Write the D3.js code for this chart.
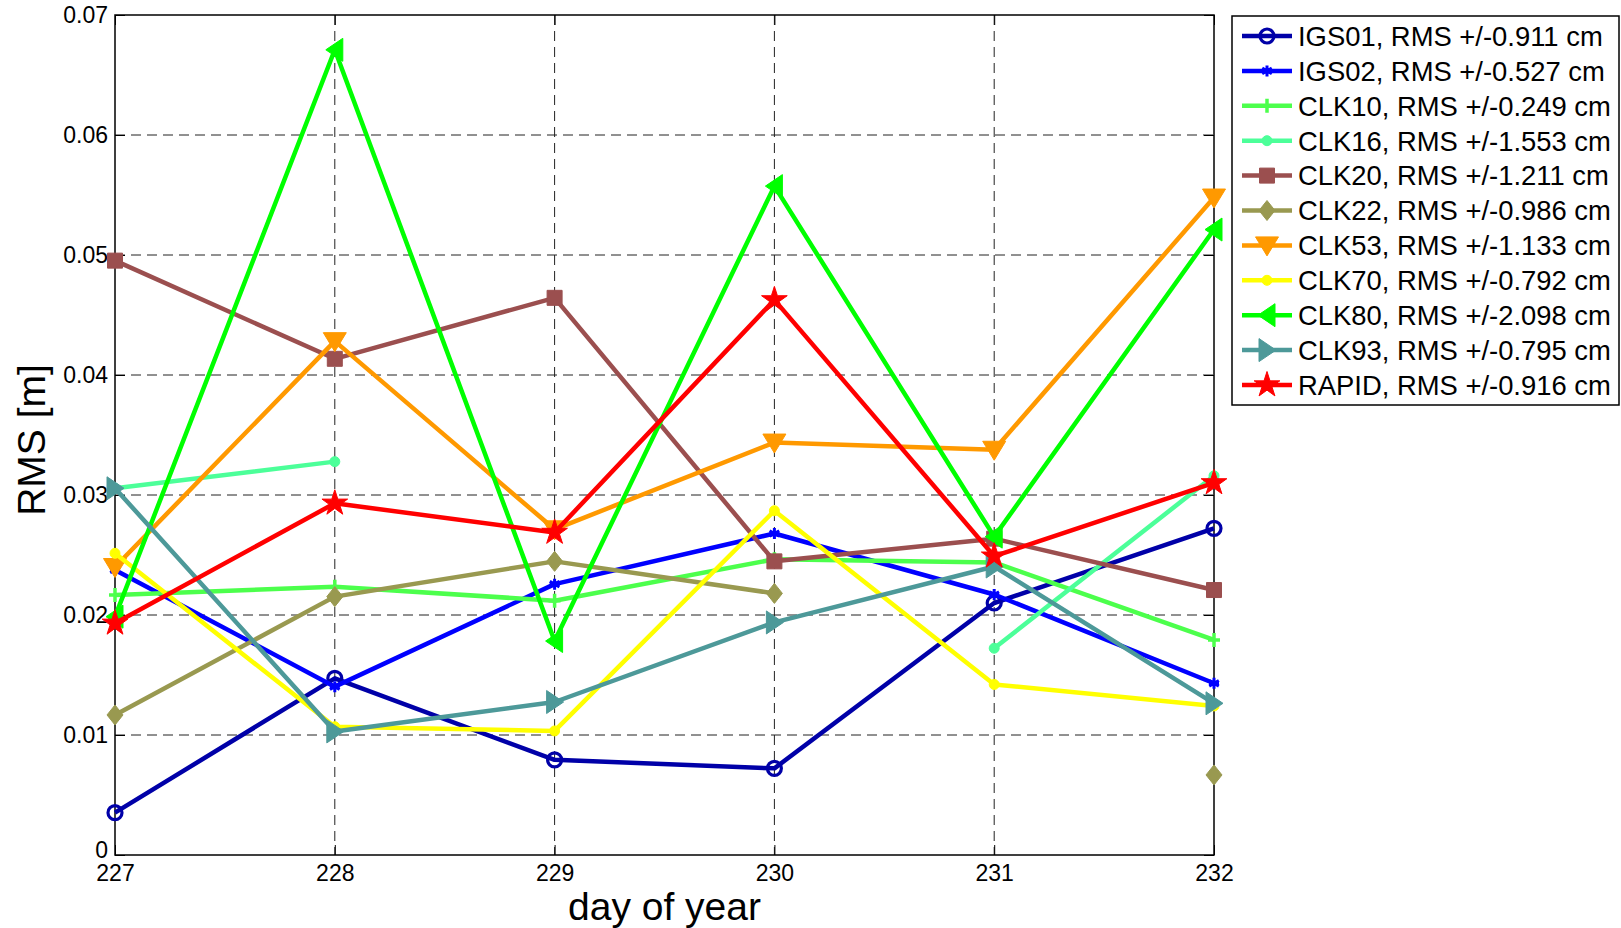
<!DOCTYPE html>
<html>
<head>
<meta charset="utf-8">
<script src="https://cdn.jsdelivr.net/npm/d3@7"></script>
<style>
    body { margin: 0; background: #fff; }
    svg { display: block; font-family: "Liberation Sans", Arial, sans-serif; }
</style>
</head>
<body>
<svg id="chart"></svg>
<script>
// days on the x axis and y tick values
const days = [227, 228, 229, 230, 231, 232];
const yTicks = [0, 0.01, 0.02, 0.03, 0.04, 0.05, 0.06, 0.07];

// legend names and the RMS text shown beside them
const names = ["IGS01", "IGS02", "CLK10", "CLK16", "CLK20", "CLK22", "CLK53", "CLK70", "CLK80", "CLK93", "RAPID"];
const rmsText = ["0.911", "0.527", "0.249", "1.553", "1.211", "0.986", "1.133", "0.792", "2.098", "0.795", "0.916"];

// RMS [m] per day (null = no value that day)
const igs01 = [0.00353, 0.01472, 0.00793, 0.00722, 0.02100, 0.02722];
const igs02 = [0.02375, 0.01403, 0.02257, 0.02679, 0.02171, 0.01431];
const clk10 = [0.02167, 0.02236, 0.02119, 0.02464, 0.02438, 0.01792];
const clk16 = [0.03056, 0.03278, null, null, 0.01723, 0.03160];
const clk20 = [0.04953, 0.04135, 0.04643, 0.02447, 0.02636, 0.02208];
const clk22 = [0.01167, 0.02153, 0.02447, 0.02180, null, 0.00667];
const clk53 = [0.02400, 0.04282, 0.02714, 0.03437, 0.03377, 0.05479];
const clk70 = [0.02514, 0.01069, 0.01034, 0.02869, 0.01421, 0.01242];
const clk80 = [0.01986, 0.06710, 0.01783, 0.05574, 0.02653, 0.05212];
const clk93 = [0.03056, 0.01030, 0.01275, 0.01938, 0.02404, 0.01264];
const rapid = [0.01931, 0.02931, 0.02688, 0.04626, 0.02490, 0.03101];

const values = [igs01, igs02, clk10, clk16, clk20, clk22, clk53, clk70, clk80, clk93, rapid];

// look of each series
const styles = {
    IGS01: { color: "#0000a8", marker: "circle" },
    IGS02: { color: "#0000ff", marker: "asterisk" },
    CLK10: { color: "#4cff4c", marker: "plus" },
    CLK16: { color: "#4cff99", marker: "dot" },
    CLK20: { color: "#9b4f4f", marker: "square" },
    CLK22: { color: "#999950", marker: "diamond" },
    CLK53: { color: "#ff9900", marker: "triDown" },
    CLK70: { color: "#ffff00", marker: "dot" },
    CLK80: { color: "#00ff00", marker: "triLeft" },
    CLK93: { color: "#4d9999", marker: "triRight" },
    RAPID: { color: "#ff0000", marker: "star" }
};

const series = names.map((name, i) => ({
    name: name,
    label: `${name}, RMS +/-${rmsText[i]} cm`,
    points: days.map((d, j) => ({ day: d, value: values[i][j] })),
    ...styles[name]
}));

const W = 1621, H = 928;
const plot = { left: 115, right: 1214, top: 15, bottom: 855 };

const svg = d3.select("#chart").attr("width", W).attr("height", H);
svg.append("rect").attr("width", W).attr("height", H).attr("fill", "#fff");

const x = d3.scaleLinear().domain([227, 232]).range([plot.left, plot.right]);
const y = d3.scaleLinear().domain([0, 0.07]).range([plot.bottom, plot.top]);

// grid lines
const grid = svg.append("g")
    .attr("stroke", "#222")
    .attr("stroke-width", 1)
    .attr("stroke-dasharray", "10,6");
grid.selectAll(".hgrid")
    .data(yTicks.slice(1, -1))
    .join("line")
    .attr("x1", plot.left).attr("x2", plot.right)
    .attr("y1", d => y(d)).attr("y2", d => y(d));
grid.selectAll(".vgrid")
    .data(days.slice(1, -1))
    .join("line")
    .attr("y1", plot.top).attr("y2", plot.bottom)
    .attr("x1", d => x(d)).attr("x2", d => x(d));

// axes with inward ticks, MATLAB style
const xAxis = d3.axisBottom(x).tickValues(days).tickSize(-10).tickPadding(10).tickFormat(d3.format("d"));
const yAxis = d3.axisLeft(y).tickValues(yTicks).tickSize(-10).tickPadding(7)
    .tickFormat(d => d === 0 ? "0" : d3.format(".2f")(d));

svg.append("g")
    .attr("transform", `translate(0,${plot.bottom})`)
    .call(xAxis)
    .call(g => g.select(".domain").remove());
svg.append("g")
    .attr("transform", `translate(0,${plot.top})`)
    .call(d3.axisTop(x).tickValues(days).tickSize(-10).tickFormat(""))
    .call(g => g.select(".domain").remove());
svg.append("g")
    .attr("class", "y-axis")
    .attr("transform", `translate(${plot.left},0)`)
    .call(yAxis)
    .call(g => g.select(".domain").remove())
    // lift the "0" a little so it clears the 227 label below it
    .call(g => g.selectAll(".tick text").filter(d => d === 0).attr("dy", "0.1em"));
svg.append("g")
    .attr("transform", `translate(${plot.right},0)`)
    .call(d3.axisRight(y).tickValues(yTicks).tickSize(-10).tickFormat(""))
    .call(g => g.select(".domain").remove());

svg.selectAll(".tick line").attr("stroke", "#000").attr("stroke-width", 1);
svg.selectAll(".tick text")
    .attr("fill", "#000")
    .style("font-size", "23px")
    .style("font-family", "'Liberation Sans', Arial, sans-serif");

// axis box
svg.append("rect")
    .attr("x", plot.left).attr("y", plot.top)
    .attr("width", plot.right - plot.left).attr("height", plot.bottom - plot.top)
    .attr("fill", "none").attr("stroke", "#000").attr("stroke-width", 1.5);

// axis labels
svg.append("text")
    .attr("x", (plot.left + plot.right) / 2)
    .attr("y", 920)
    .attr("text-anchor", "middle")
    .style("font-size", "39px")
    .text("day of year");

svg.append("text")
    .attr("transform", `translate(45,${(plot.top + plot.bottom) / 2 + 5}) rotate(-90)`)
    .attr("text-anchor", "middle")
    .style("font-size", "39px")
    .text("RMS [m]");

// marker shapes
function starPath(R) {
    const r = R * 0.38;
    const pts = [];
    for (let k = 0; k < 10; k++) {
        const a = -Math.PI / 2 + k * Math.PI / 5;
        const rr = k % 2 === 0 ? R : r;
        pts.push([rr * Math.cos(a), rr * Math.sin(a)]);
    }
    return "M" + pts.map(p => p.join(",")).join("L") + "Z";
}

function drawMarker(g, type, color, cx, cy) {
    const m = g.append("g").attr("transform", `translate(${cx},${cy})`);
    if (type === "circle") {
        m.append("circle").attr("r", 7).attr("fill", "none").attr("stroke", color).attr("stroke-width", 3.2);
    } else if (type === "dot") {
        m.append("circle").attr("r", 5).attr("fill", color).attr("stroke", color).attr("stroke-width", 1);
    } else if (type === "plus") {
        m.append("path").attr("d", "M0,-7V7M-6,0H6").attr("stroke", color).attr("stroke-width", 3.5).attr("fill", "none");
    } else if (type === "asterisk") {
        m.append("path").attr("d", "M0,-5.5V5.5M-4.8,-2.8L4.8,2.8M-4.8,2.8L4.8,-2.8M-5,0H5")
            .attr("stroke", color).attr("stroke-width", 3).attr("fill", "none");
    } else {
        let d;
        if (type === "square") d = "M-7.5,-7.5H7.5V7.5H-7.5Z";
        if (type === "diamond") d = "M0,-10L8,0L0,10L-8,0Z";
        if (type === "triDown") d = "M-11.5,-8.5L11.5,-8.5L0,10.5Z";
        if (type === "triLeft") d = "M-9,0L8,-11.5L8,11.5Z";
        if (type === "triRight") d = "M9,0L-8,-11.5L-8,11.5Z";
        if (type === "star") d = starPath(13.5);
        m.append("path").attr("d", d).attr("fill", color).attr("stroke", color).attr("stroke-width", 1);
    }
}

// series lines + markers
const line = d3.line()
    .defined(d => d.value !== null)
    .x(d => x(d.day))
    .y(d => y(d.value));

series.forEach(s => {
    const g = svg.append("g").attr("class", "series");
    g.append("path")
        .datum(s.points)
        .attr("d", line)
        .attr("fill", "none")
        .attr("stroke", s.color)
        .attr("stroke-width", 4.5)
        .attr("stroke-linejoin", "round");
    s.points.filter(p => p.value !== null).forEach(p => {
        drawMarker(g, s.marker, s.color, x(p.day), y(p.value));
    });
});

// legend
const legend = svg.append("g");
legend.append("rect")
    .attr("x", 1232).attr("y", 16)
    .attr("width", 387).attr("height", 389)
    .attr("fill", "#fff").attr("stroke", "#000").attr("stroke-width", 1.5);

series.forEach((s, i) => {
    const ly = 36 + i * 34.9;
    legend.append("line")
        .attr("x1", 1242).attr("x2", 1292)
        .attr("y1", ly).attr("y2", ly)
        .attr("stroke", s.color).attr("stroke-width", 4.5);
    drawMarker(legend, s.marker, s.color, 1267, ly);
    legend.append("text")
        .attr("x", 1298).attr("y", ly)
        .attr("dy", "0.36em")
        .style("font-size", "27.4px")
        .text(s.label);
});
</script>
</body>
</html>
